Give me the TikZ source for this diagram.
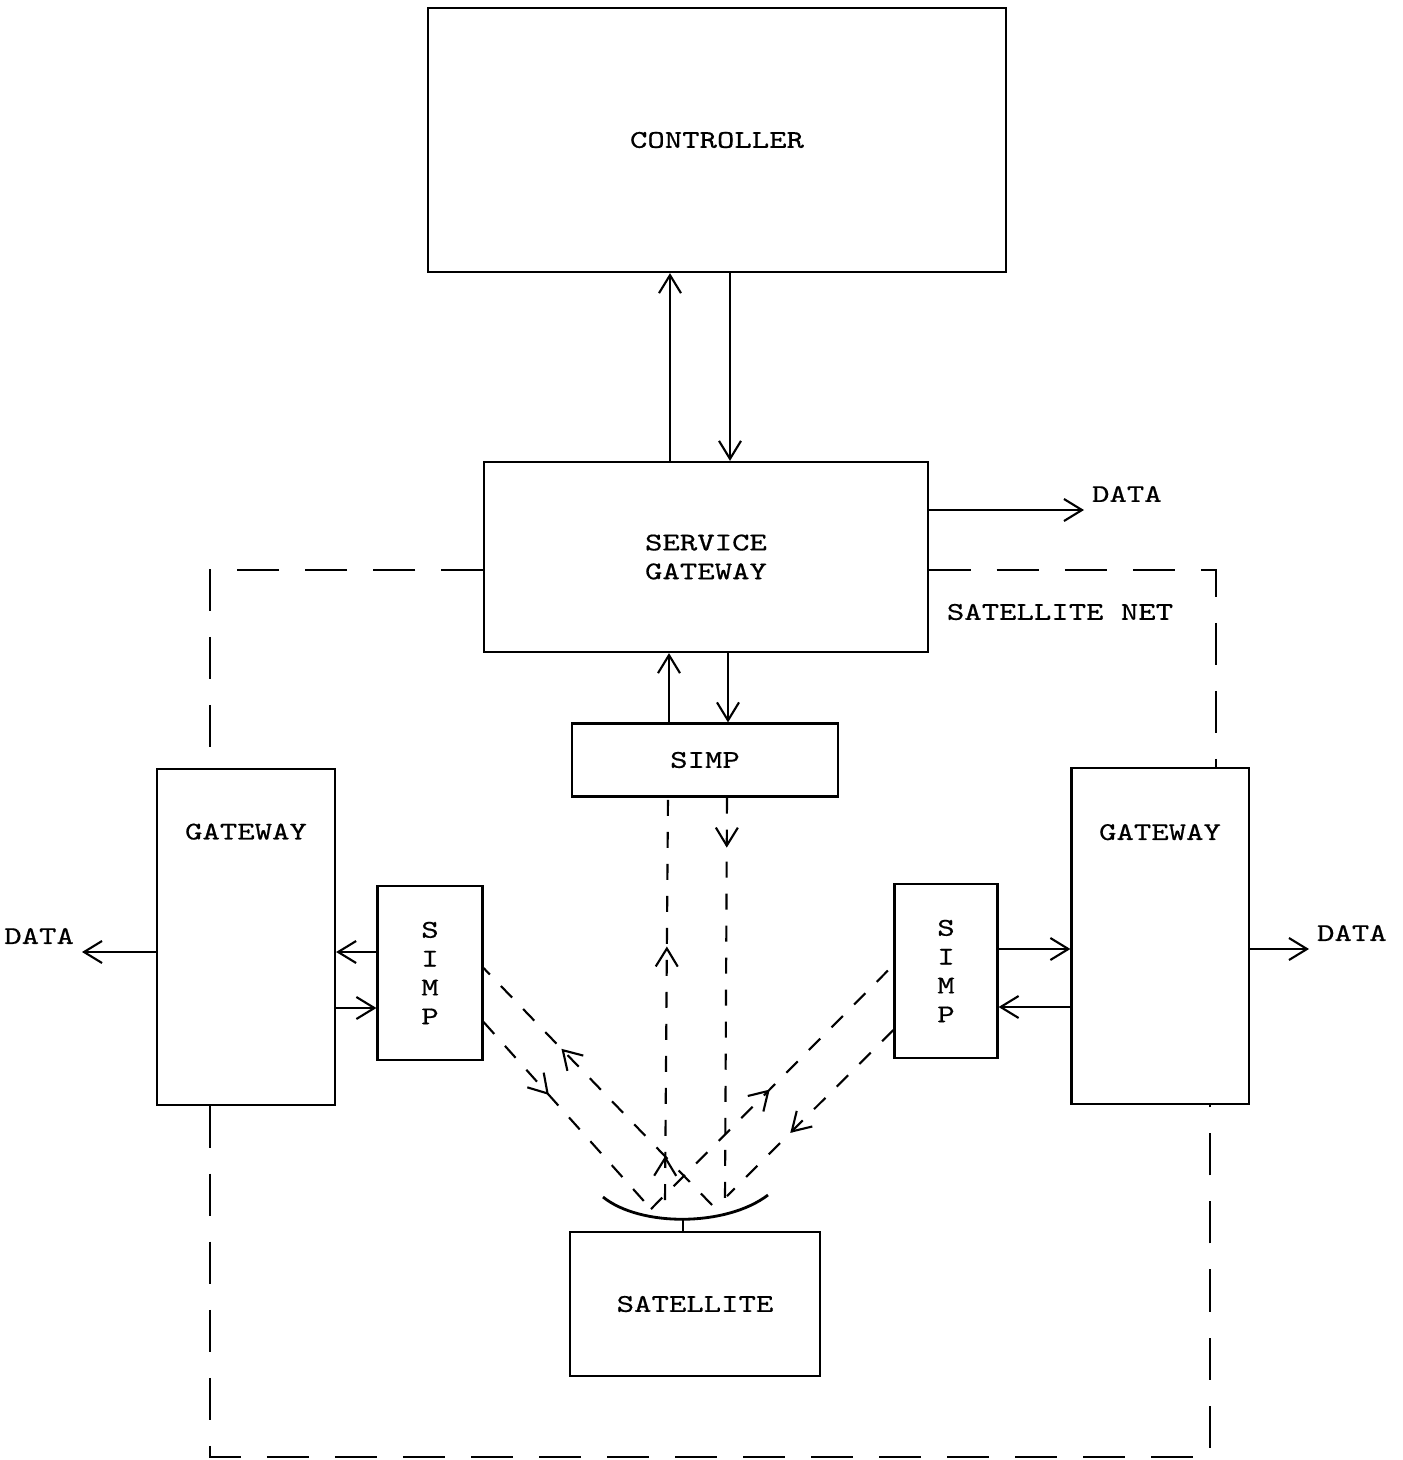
\documentclass[tikz,border=0pt]{standalone}
\usepackage{fontspec}
\newfontfamily\typer{lmmono10-regular}[Extension=.otf,FakeStretch=1.3,FakeBold=0.6]
\usetikzlibrary{arrows.meta,decorations.markings}

\begin{document}
\begin{tikzpicture}[x=0.01cm,y=-0.01cm,font=\typer\fontsize{7.25}{8.2}\selectfont,>={Straight Barb[length=1.8mm,width=2.2mm]},semithick,
box/.style={draw,align=center,inner sep=0pt},lbl/.style={inner sep=2pt},
net/.style={thick,dash pattern=on 0.42cm off 0.26cm},beam/.style={dash pattern=on 0.16cm off 0.16cm},
beamtip/.style={postaction={decorate,decoration={markings,mark=at position #1 with {\arrow{>}}}}}]
\useasboundingbox (0,0) rectangle (1403,1460);
\node[box,minimum width=5.78cm,minimum height=2.64cm](ctrl) at (717,140){CONTROLLER};
\node[box,minimum width=4.43cm,minimum height=1.90cm](sg) at (706,557){SERVICE\\GATEWAY};
\node[box,minimum width=2.66cm,minimum height=0.73cm](simp) at (705,760){SIMP};
\node[box,minimum width=1.78cm,text height=0.7cm,text depth=2.65cm](lgw) at (246,937){GATEWAY};
\node[box,minimum width=1.77cm,text height=0.72cm,text depth=2.64cm](rgw) at (1160,936){GATEWAY};
\node[box,minimum width=1.05cm,minimum height=1.74cm](lsimp) at (430,973){S\\I\\M\\P};
\node[box,minimum width=1.03cm,minimum height=1.74cm](rsimp) at (946,971){S\\I\\M\\P};
\node[box,minimum width=2.5cm,minimum height=1.44cm](sat) at (695,1304){SATELLITE};
\node[lbl,anchor=south west](dsg) at (1084,510){DATA};
\node[lbl,anchor=south east](dl) at (82,952){DATA};
\node[lbl,anchor=south west](dr) at (1309,949){DATA};
\node[lbl](lnet) at (1060,612){SATELLITE NET};
\draw[->](sg.north -| 670,0)--(ctrl.south -| 670,0);\draw[->](ctrl.south -| 730,0)--(sg.north -| 730,0);
\draw[->](simp.north -| 669,0)--(sg.south -| 669,0);\draw[->](sg.south -| 728,0)--(simp.north -| 728,0);
\draw[->](sg.east |- dsg.south west)--(dsg.south west);
\draw[->](lgw.west |- dl.south east)--(dl.south east);
\draw[->](rgw.east |- dr.south west)--(dr.south west);
\draw[->](lsimp.west |- 0,952)--(lgw.east |- 0,952);\draw[->](lgw.east |- 0,1008)--(lsimp.west |- 0,1008);
\draw[->](rsimp.east |- 0,949)--(rgw.west |- 0,949);\draw[->](rgw.west |- 0,1007)--(rsimp.east |- 0,1007);
\coordinate(nl) at (210,570);\coordinate(nr) at (1216,570);\coordinate(bl) at (210,1457);\coordinate(br) at (1210,1457);
\draw[net](sg.west |- nl)--(nl)--(nl |- lgw.north);
\draw[net](sg.east |- nr)--(nr)--(nr |- rgw.north);
\draw[net](bl |- lgw.south)--(bl)--(br)--(br |- rgw.south);
\coordinate(dish) at (683,1219);
\draw[thick](603,1197) .. controls (640,1227) and (726,1227) .. (768,1195);
\draw(dish)--(sat.north -| dish);
\coordinate(v1) at (651,1209);\coordinate(v2) at (712,1205);\coordinate(v3) at (727,1196);\coordinate(v4) at (665,1200);\coordinate(v5) at (725,1198);
\draw[beam,beamtip=0.66](v2)--(lsimp.east |- 0,968);
\draw[beam,beamtip=0.39](lsimp.east |- 0,1022)--(v1);
\draw[beam,beamtip=0.49](v1)--(rsimp.west |- 0,965);
\draw[beam,beamtip=0.62](rsimp.west |- 0,1030)--(v3);
\draw[beam,beamtip=0.11,beamtip=0.63](v4)--(simp.south -| 668,0);
\draw[beam,beamtip=0.125](simp.south -| 727,0)--(v5);
\end{tikzpicture}
\end{document}
